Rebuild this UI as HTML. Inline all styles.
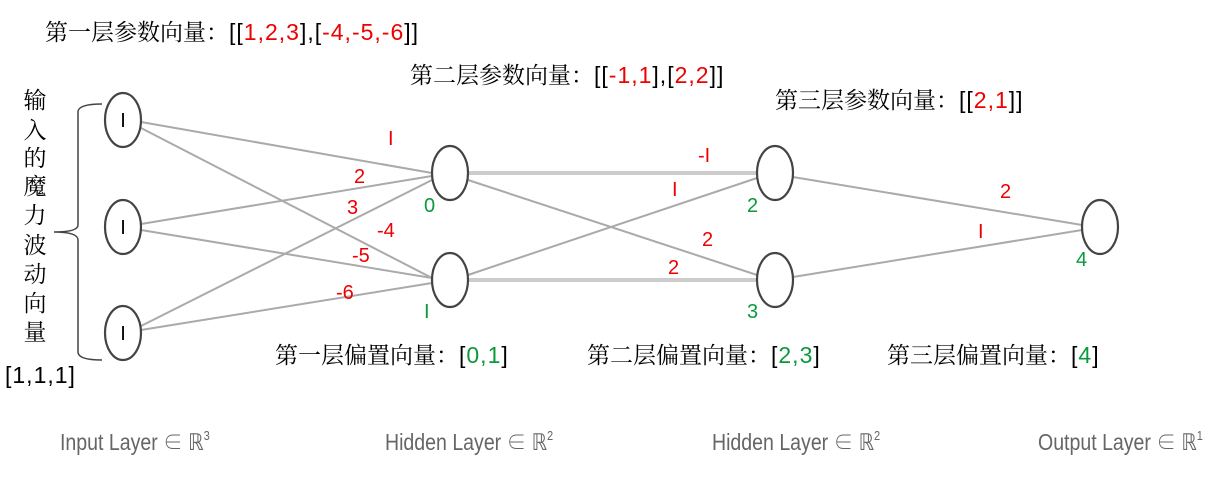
<!DOCTYPE html>
<html><head><meta charset="utf-8"><style>
html,body{margin:0;padding:0;background:#fff;}
svg text{font-family:"Liberation Sans","Noto Serif CJK SC","Noto Sans CJK SC",sans-serif;}
.cn{font-family:"Noto Serif CJK SC",serif;font-size:23px;fill:#000;}
.cn tspan.n{font-family:"Liberation Sans",sans-serif;font-size:23px;letter-spacing:1px;}
.r{fill:#e00;font-size:20px;}
.g{fill:#0a9a3c;font-size:20px;}
.lay{font-size:23px;fill:#666;}
</style></head><body>
<svg width="1223" height="486" xmlns="http://www.w3.org/2000/svg">
<g stroke="#aaa" stroke-width="2" fill="none">
<line x1="141" y1="122" x2="432" y2="173"/>
<line x1="141" y1="128" x2="432" y2="278"/>
<line x1="141" y1="224" x2="432" y2="176"/>
<line x1="141" y1="230" x2="432" y2="278"/>
<line x1="141" y1="326" x2="432" y2="180"/>
<line x1="141" y1="330" x2="432" y2="283"/>
<line x1="468" y1="180" x2="757" y2="275"/>
<line x1="468" y1="275" x2="757" y2="178"/>
<line x1="793" y1="177" x2="1082" y2="225"/>
<line x1="793" y1="277" x2="1082" y2="230"/>
</g>
<g stroke="#ccc" stroke-width="4"><line x1="468" y1="173" x2="757" y2="173"/><line x1="468" y1="280" x2="757" y2="280"/></g>
<g stroke="#444" stroke-width="2.2" fill="#fff">
<ellipse cx="123" cy="120" rx="18" ry="27"/>
<ellipse cx="123" cy="227" rx="18" ry="27"/>
<ellipse cx="123" cy="333" rx="18" ry="27"/>
<ellipse cx="450" cy="173" rx="18" ry="27"/>
<ellipse cx="450" cy="280" rx="18" ry="27"/>
<ellipse cx="775" cy="173" rx="18" ry="27"/>
<ellipse cx="775" cy="280" rx="18" ry="27"/>
<ellipse cx="1100" cy="227" rx="18" ry="27"/>
</g>
<g font-size="20" fill="#000" text-anchor="middle"><text x="123" y="127">I</text><text x="123" y="234">I</text><text x="123" y="340">I</text></g>
<path d="M102,104 Q78,104 78,112 L78,225 Q78,232 54,232 Q78,232 78,240 L78,352 Q78,360 102,360" stroke="#444" stroke-width="1.5" fill="none"/>
<g class="cn" text-anchor="middle">
<text x="35" y="108">输</text><text x="35" y="138">入</text><text x="35" y="166">的</text><text x="35" y="194">魔</text><text x="35" y="223">力</text><text x="35" y="253">波</text><text x="35" y="282">动</text><text x="35" y="311">向</text><text x="35" y="340">量</text>
</g>
<text x="5" y="383" class="cn"><tspan class="n">[1,1,1]</tspan></text>
<text x="45" y="40" class="cn">第一层参数向量：<tspan class="n">[[<tspan fill="#e00">1,2,3</tspan>],[<tspan fill="#e00">-4,-5,-6</tspan>]]</tspan></text>
<text x="410" y="83" class="cn">第二层参数向量：<tspan class="n">[[<tspan fill="#e00">-1,1</tspan>],[<tspan fill="#e00">2,2</tspan>]]</tspan></text>
<text x="775" y="108" class="cn">第三层参数向量：<tspan class="n">[[<tspan fill="#e00">2,1</tspan>]]</tspan></text>
<text x="275" y="363" class="cn">第一层偏置向量：<tspan class="n">[<tspan fill="#0a9a3c">0,1</tspan>]</tspan></text>
<text x="587" y="363" class="cn">第二层偏置向量：<tspan class="n">[<tspan fill="#0a9a3c">2,3</tspan>]</tspan></text>
<text x="887" y="363" class="cn">第三层偏置向量：<tspan class="n">[<tspan fill="#0a9a3c">4</tspan>]</tspan></text>
<g class="r"><text x="388" y="145">I</text><text x="354" y="183">2</text><text x="347" y="214">3</text><text x="377" y="237">-4</text><text x="352" y="262">-5</text><text x="336" y="299">-6</text>
<text x="698" y="162">-I</text><text x="672" y="196">I</text><text x="702" y="246">2</text><text x="668" y="274">2</text>
<text x="1000" y="198">2</text><text x="978" y="238">I</text></g>
<g class="g"><text x="424" y="212">0</text><text x="424" y="318">I</text><text x="747" y="212">2</text><text x="747" y="318">3</text><text x="1076" y="266">4</text></g>
<g class="lay">
<text x="60" y="450" transform="translate(60 0) scale(0.85 1) translate(-60 0)">Input Layer ∈ ℝ<tspan font-size="13" dy="-10">3</tspan></text>
<text x="385" y="450" transform="translate(385 0) scale(0.85 1) translate(-385 0)">Hidden Layer ∈ ℝ<tspan font-size="13" dy="-10">2</tspan></text>
<text x="712" y="450" transform="translate(712 0) scale(0.85 1) translate(-712 0)">Hidden Layer ∈ ℝ<tspan font-size="13" dy="-10">2</tspan></text>
<text x="1038" y="450" transform="translate(1038 0) scale(0.85 1) translate(-1038 0)">Output Layer ∈ ℝ<tspan font-size="13" dy="-10">1</tspan></text>
</g>
</svg>
</body></html>
